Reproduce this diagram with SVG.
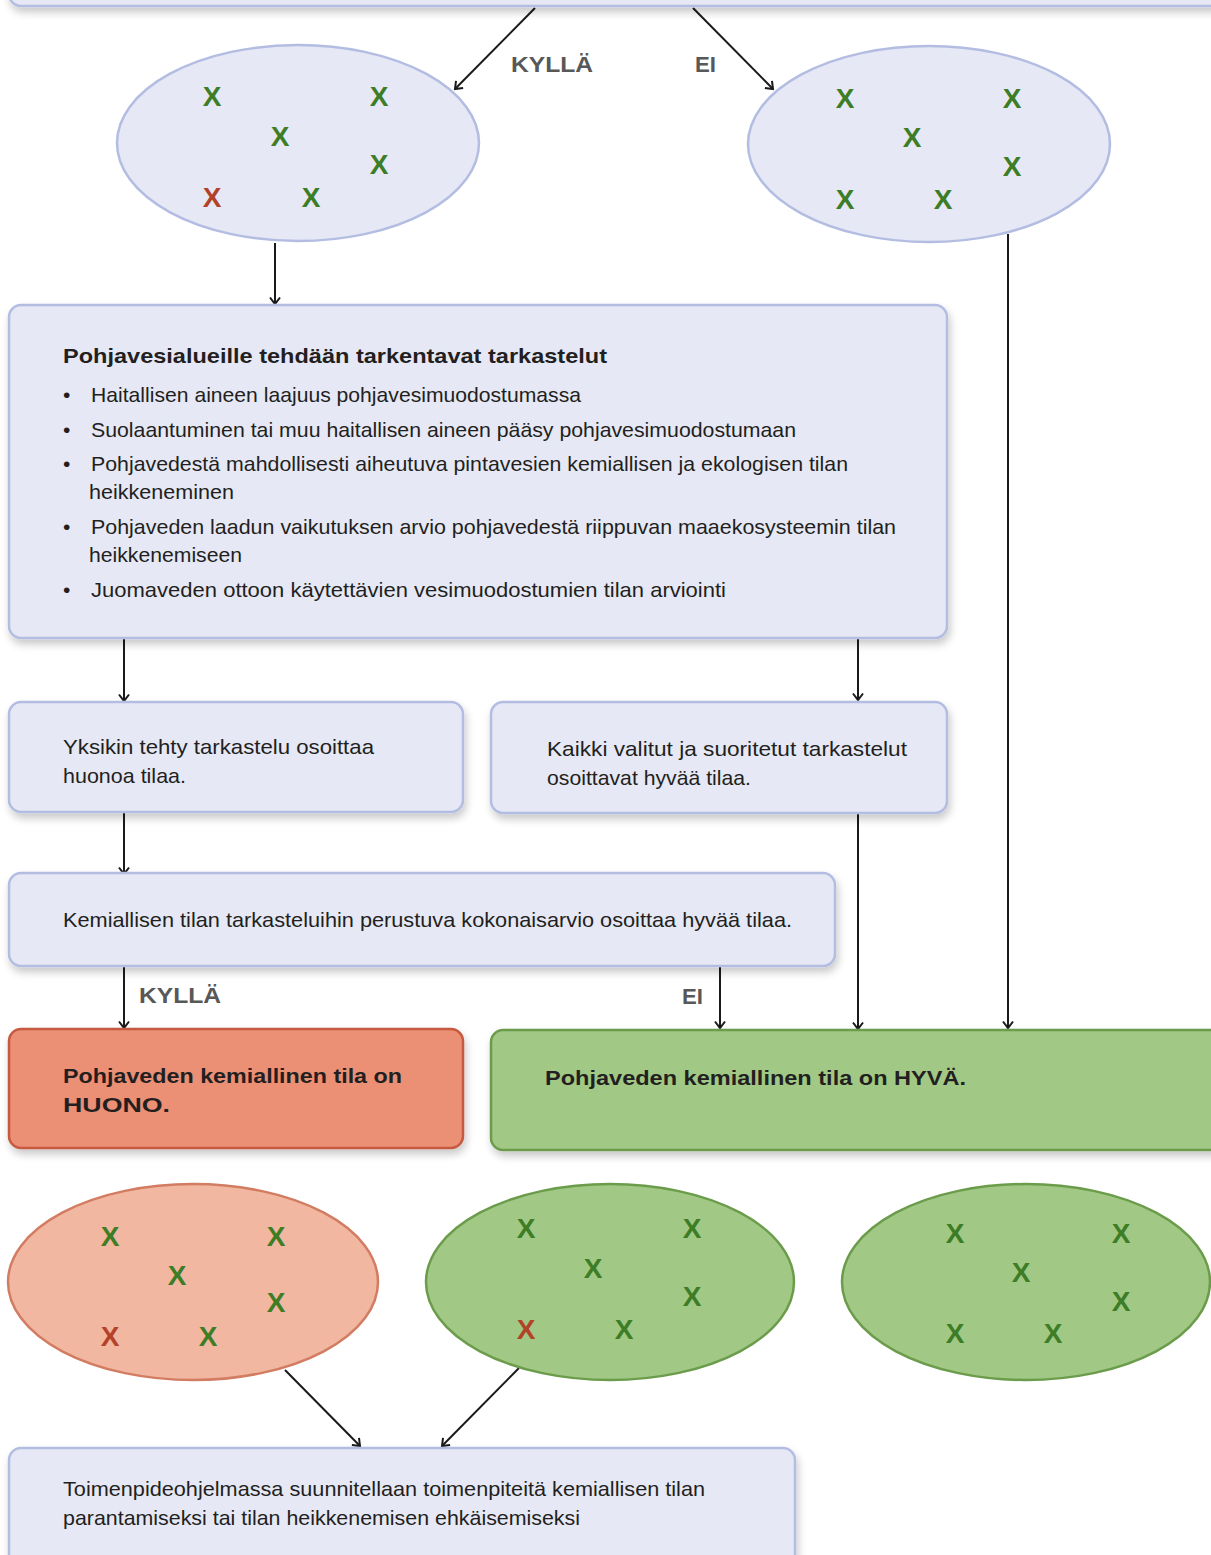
<svg xmlns="http://www.w3.org/2000/svg" width="1211" height="1555" viewBox="0 0 1211 1555">
  <defs>
    <filter id="shadow" x="-5%" y="-10%" width="115%" height="130%">
      <feGaussianBlur in="SourceAlpha" stdDeviation="4"/>
      <feOffset dx="2" dy="5" result="b"/>
      <feComponentTransfer><feFuncA type="linear" slope="0.22"/></feComponentTransfer>
      <feMerge><feMergeNode/><feMergeNode in="SourceGraphic"/></feMerge>
    </filter>
    <marker id="arr" viewBox="0 0 12 12" refX="10.5" refY="6" markerWidth="12" markerHeight="12" markerUnits="userSpaceOnUse" orient="auto">
      <path d="M4,1 L10.5,6 L4,11" fill="none" stroke="#1a1a1a" stroke-width="2"/>
    </marker>
    <style>
      .box { fill: #e6e8f5; stroke: #b3bde2; stroke-width: 2.5; }
      .ell { fill: #e6e8f5; stroke: #b3bde2; stroke-width: 2.5; }
      .red { fill: #eb8f75; stroke: #c65a3f; stroke-width: 2.5; }
      .green { fill: #a1c985; stroke: #6b9c4b; stroke-width: 2.5; }
      .pink { fill: #f2b7a1; stroke: #d27c62; stroke-width: 2.5; }
      .t { font-family: "Liberation Sans", Arial, sans-serif; font-size: 21px; fill: #231f20; }
      .b { font-weight: bold; }
      .lbl { font-family: "Liberation Sans", Arial, sans-serif; font-size: 22px; font-weight: bold; fill: #585858; }
      .x { font-family: "Liberation Sans", Arial, sans-serif; font-size: 28px; font-weight: bold; text-anchor: middle; }
      .xg { fill: #3d7d25; }
      .xr { fill: #b3422a; }
      .c { fill: none; stroke: #1a1a1a; stroke-width: 2; marker-end: url(#arr); }
    </style>
  </defs>

  <!-- connectors -->
  <g id="connectors">
    <line class="c" x1="535" y1="8" x2="455" y2="89"/>
    <line class="c" x1="693" y1="8" x2="773" y2="89"/>
    <line class="c" x1="275" y1="243" x2="275" y2="304"/>
    <line class="c" x1="1008" y1="234" x2="1008" y2="1028"/>
    <line class="c" x1="124" y1="638" x2="124" y2="701"/>
    <line class="c" x1="858" y1="638" x2="858" y2="700"/>
    <line class="c" x1="124" y1="812" x2="124" y2="874"/>
    <line class="c" x1="858" y1="813" x2="858" y2="1029"/>
    <line class="c" x1="124" y1="966" x2="124" y2="1028"/>
    <line class="c" x1="720" y1="966" x2="720" y2="1028"/>
    <line class="c" x1="285" y1="1370" x2="360" y2="1446"/>
    <line class="c" x1="519" y1="1368" x2="442" y2="1446"/>
    <text class="lbl" x="511" y="72" textLength="82" lengthAdjust="spacingAndGlyphs">KYLLÄ</text>
    <text class="lbl" x="695" y="72" textLength="21" lengthAdjust="spacingAndGlyphs">EI</text>
    <text class="lbl" x="139" y="1003" textLength="82" lengthAdjust="spacingAndGlyphs">KYLLÄ</text>
    <text class="lbl" x="682" y="1004" textLength="21" lengthAdjust="spacingAndGlyphs">EI</text>
  </g>

  <!-- top decision box (mostly above view) -->
  <g id="top-box">
    <rect class="box" x="9" y="-60" width="1230" height="66" rx="12" filter="url(#shadow)"/>
  </g>

  <!-- upper sets -->
  <g id="set-yes">
    <ellipse class="ell" cx="298" cy="143" rx="181" ry="98"/>
    <text class="x xg" x="212" y="106">X</text>
    <text class="x xg" x="379" y="106">X</text>
    <text class="x xg" x="280" y="146">X</text>
    <text class="x xg" x="379" y="174">X</text>
    <text class="x xr" x="212" y="207">X</text>
    <text class="x xg" x="311" y="207">X</text>
  </g>
  <g id="set-no">
    <ellipse class="ell" cx="929" cy="144" rx="181" ry="98"/>
    <text class="x xg" x="845" y="108">X</text>
    <text class="x xg" x="1012" y="108">X</text>
    <text class="x xg" x="912" y="147">X</text>
    <text class="x xg" x="1012" y="176">X</text>
    <text class="x xg" x="845" y="209">X</text>
    <text class="x xg" x="943" y="209">X</text>
  </g>

  <!-- detailed checks -->
  <g id="checks">
    <rect class="box" x="9" y="305" width="938" height="333" rx="12" filter="url(#shadow)"/>
    <text class="t b" x="63" y="363" textLength="544" lengthAdjust="spacingAndGlyphs">Pohjavesialueille tehdään tarkentavat tarkastelut</text>
    <text class="t" x="63" y="402">•</text>
    <text class="t" x="91" y="402" textLength="490" lengthAdjust="spacingAndGlyphs">Haitallisen aineen laajuus pohjavesimuodostumassa</text>
    <text class="t" x="63" y="437">•</text>
    <text class="t" x="91" y="437" textLength="705" lengthAdjust="spacingAndGlyphs">Suolaantuminen tai muu haitallisen aineen pääsy pohjavesimuodostumaan</text>
    <text class="t" x="63" y="471">•</text>
    <text class="t" x="91" y="471" textLength="757" lengthAdjust="spacingAndGlyphs">Pohjavedestä mahdollisesti aiheutuva pintavesien kemiallisen ja ekologisen tilan</text>
    <text class="t" x="89" y="499" textLength="145" lengthAdjust="spacingAndGlyphs">heikkeneminen</text>
    <text class="t" x="63" y="534">•</text>
    <text class="t" x="91" y="534" textLength="805" lengthAdjust="spacingAndGlyphs">Pohjaveden laadun vaikutuksen arvio pohjavedestä riippuvan maaekosysteemin tilan</text>
    <text class="t" x="89" y="562" textLength="153" lengthAdjust="spacingAndGlyphs">heikkenemiseen</text>
    <text class="t" x="63" y="597">•</text>
    <text class="t" x="91" y="597" textLength="635" lengthAdjust="spacingAndGlyphs">Juomaveden ottoon käytettävien vesimuodostumien tilan arviointi</text>
  </g>

  <g id="one-bad">
    <rect class="box" x="9" y="702" width="454" height="110" rx="12" filter="url(#shadow)"/>
    <text class="t" x="63" y="754" textLength="311" lengthAdjust="spacingAndGlyphs">Yksikin tehty tarkastelu osoittaa</text>
    <text class="t" x="63" y="783" textLength="123" lengthAdjust="spacingAndGlyphs">huonoa tilaa.</text>
  </g>

  <g id="all-good">
    <rect class="box" x="491" y="702" width="456" height="111" rx="12" filter="url(#shadow)"/>
    <text class="t" x="547" y="756" textLength="360" lengthAdjust="spacingAndGlyphs">Kaikki valitut ja suoritetut tarkastelut</text>
    <text class="t" x="547" y="785" textLength="204" lengthAdjust="spacingAndGlyphs">osoittavat hyvää tilaa.</text>
  </g>

  <g id="overall">
    <rect class="box" x="9" y="873" width="826" height="93" rx="12" filter="url(#shadow)"/>
    <text class="t" x="63" y="927" textLength="729" lengthAdjust="spacingAndGlyphs">Kemiallisen tilan tarkasteluihin perustuva kokonaisarvio osoittaa hyvää tilaa.</text>
  </g>

  <g id="result-bad">
    <rect class="red" x="9" y="1029" width="454" height="119" rx="12" filter="url(#shadow)"/>
    <text class="t b" x="63" y="1083" textLength="339" lengthAdjust="spacingAndGlyphs">Pohjaveden kemiallinen tila on</text>
    <text class="t b" x="63" y="1112" textLength="107" lengthAdjust="spacingAndGlyphs">HUONO.</text>
  </g>

  <g id="result-good">
    <rect class="green" x="491" y="1030" width="740" height="120" rx="12" filter="url(#shadow)"/>
    <text class="t b" x="545" y="1085" textLength="421" lengthAdjust="spacingAndGlyphs">Pohjaveden kemiallinen tila on HYVÄ.</text>
  </g>

  <!-- lower sets -->
  <g id="set-bad">
    <ellipse class="pink" cx="193" cy="1282" rx="185" ry="98"/>
    <text class="x xg" x="110" y="1246">X</text>
    <text class="x xg" x="276" y="1246">X</text>
    <text class="x xg" x="177" y="1285">X</text>
    <text class="x xg" x="276" y="1312">X</text>
    <text class="x xr" x="110" y="1346">X</text>
    <text class="x xg" x="208" y="1346">X</text>
  </g>
  <g id="set-good-one-red">
    <ellipse class="green" cx="610" cy="1282" rx="184" ry="98"/>
    <text class="x xg" x="526" y="1238">X</text>
    <text class="x xg" x="692" y="1238">X</text>
    <text class="x xg" x="593" y="1278">X</text>
    <text class="x xg" x="692" y="1306">X</text>
    <text class="x xr" x="526" y="1339">X</text>
    <text class="x xg" x="624" y="1339">X</text>
  </g>
  <g id="set-good">
    <ellipse class="green" cx="1026" cy="1282" rx="184" ry="98"/>
    <text class="x xg" x="955" y="1243">X</text>
    <text class="x xg" x="1121" y="1243">X</text>
    <text class="x xg" x="1021" y="1282">X</text>
    <text class="x xg" x="1121" y="1311">X</text>
    <text class="x xg" x="955" y="1343">X</text>
    <text class="x xg" x="1053" y="1343">X</text>
  </g>

  <g id="programme">
    <rect class="box" x="9" y="1448" width="786" height="140" rx="12" filter="url(#shadow)"/>
    <text class="t" x="63" y="1496" textLength="642" lengthAdjust="spacingAndGlyphs">Toimenpideohjelmassa suunnitellaan toimenpiteitä kemiallisen tilan</text>
    <text class="t" x="63" y="1525" textLength="517" lengthAdjust="spacingAndGlyphs">parantamiseksi tai tilan heikkenemisen ehkäisemiseksi</text>
  </g>
</svg>
